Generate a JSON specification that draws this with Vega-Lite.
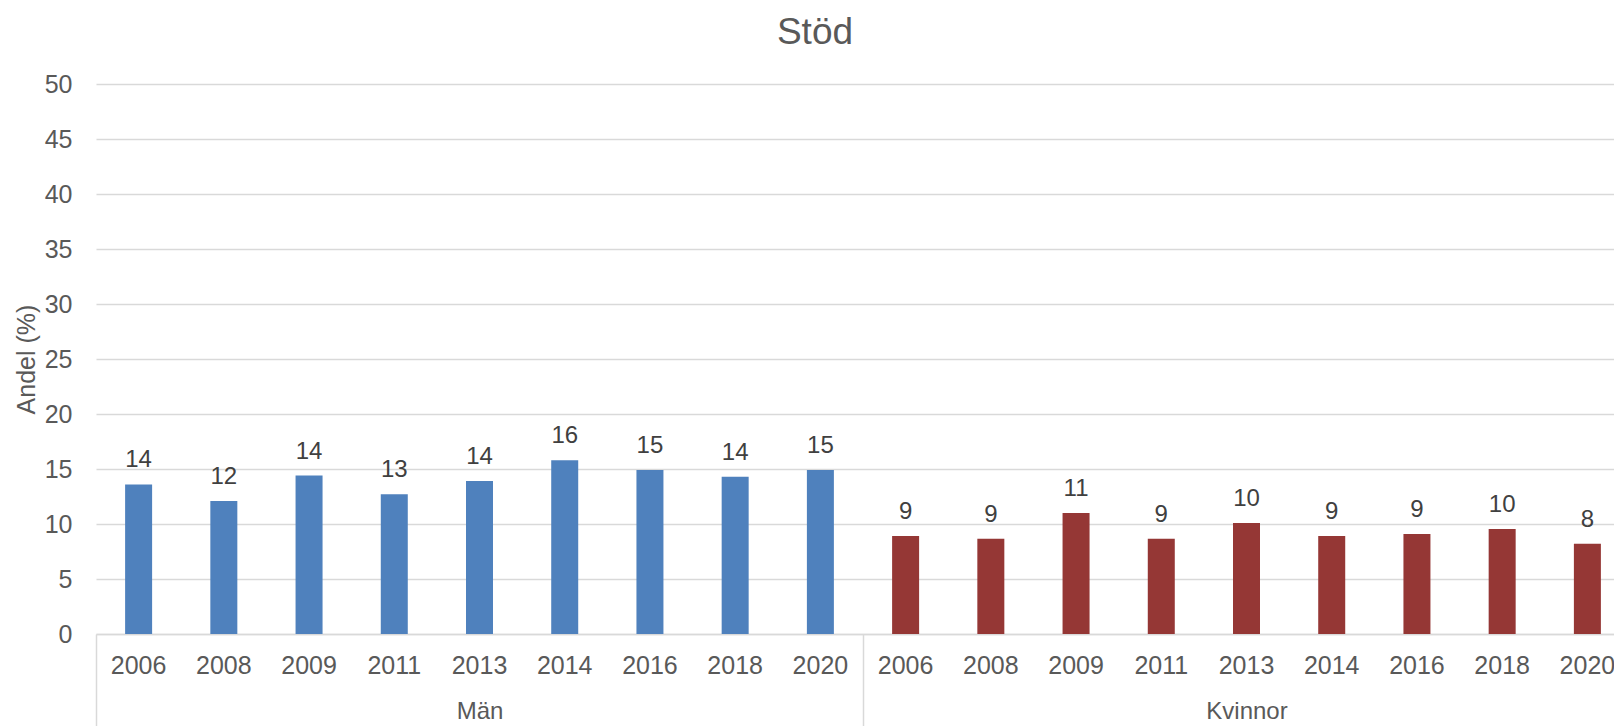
{
  "$schema": "https://vega.github.io/schema/vega-lite/v6.json",
  "width": 1518,
  "height": 550,
  "autosize": {"type": "none"},
  "padding": {"left": 96, "top": 84, "right": 0, "bottom": 92},
  "background": "white",
  "config": {"font": "Liberation Sans", "view": {"stroke": null}},
  "title": {"text": "Stöd", "fontSize": 37, "fontWeight": "normal", "color": "#595959", "anchor": "middle", "frame": "group", "dx": -40, "baseline": "alphabetic", "offset": -9},
  "data": {"values": [
    {"group": "Män", "year": "2006", "key": "Män 2006", "value": 13.6},
    {"group": "Män", "year": "2008", "key": "Män 2008", "value": 12.1},
    {"group": "Män", "year": "2009", "key": "Män 2009", "value": 14.4},
    {"group": "Män", "year": "2011", "key": "Män 2011", "value": 12.7},
    {"group": "Män", "year": "2013", "key": "Män 2013", "value": 13.9},
    {"group": "Män", "year": "2014", "key": "Män 2014", "value": 15.8},
    {"group": "Män", "year": "2016", "key": "Män 2016", "value": 14.9},
    {"group": "Män", "year": "2018", "key": "Män 2018", "value": 14.3},
    {"group": "Män", "year": "2020", "key": "Män 2020", "value": 14.9},
    {"group": "Kvinnor", "year": "2006", "key": "Kvinnor 2006", "value": 8.9},
    {"group": "Kvinnor", "year": "2008", "key": "Kvinnor 2008", "value": 8.65},
    {"group": "Kvinnor", "year": "2009", "key": "Kvinnor 2009", "value": 11.0},
    {"group": "Kvinnor", "year": "2011", "key": "Kvinnor 2011", "value": 8.65},
    {"group": "Kvinnor", "year": "2013", "key": "Kvinnor 2013", "value": 10.1},
    {"group": "Kvinnor", "year": "2014", "key": "Kvinnor 2014", "value": 8.9},
    {"group": "Kvinnor", "year": "2016", "key": "Kvinnor 2016", "value": 9.1},
    {"group": "Kvinnor", "year": "2018", "key": "Kvinnor 2018", "value": 9.55},
    {"group": "Kvinnor", "year": "2020", "key": "Kvinnor 2020", "value": 8.2}
  ]},
  "layer": [
    {
      "layer": [
        {
          "mark": {"type": "bar", "size": 27},
          "encoding": {
            "x": {"field": "key", "type": "nominal", "sort": null,
              "scale": {"range": [0, 1534], "paddingInner": 0, "paddingOuter": 0},
              "axis": {"orient": "bottom", "title": null, "labelExpr": "slice(datum.label, -4)", "labelAngle": 0, "labelFontSize": 25, "labelColor": "#595959", "labelPadding": 19, "ticks": false, "domain": true, "domainColor": "#D9D9D9", "domainWidth": 1.5, "grid": false}},
            "y": {"field": "value", "type": "quantitative", "scale": {"domain": [0, 50]},
              "axis": {"values": [0, 5, 10, 15, 20, 25, 30, 35, 40, 45, 50], "title": "Andel (%)", "titleFontSize": 25, "titleColor": "#595959", "titleFontWeight": "normal", "titleX": -70, "titleY": 275, "titleAngle": 270, "titleBaseline": "middle", "titleAlign": "center", "labelFontSize": 25, "labelColor": "#595959", "labelPadding": 24, "ticks": false, "domain": false, "grid": true, "gridColor": "#D9D9D9", "gridWidth": 1.5}},
            "color": {"field": "group", "type": "nominal", "scale": {"domain": ["Män", "Kvinnor"], "range": ["#4F81BD", "#953735"]}, "legend": null}
          }
        },
        {
          "mark": {"type": "text", "dy": -17, "baseline": "alphabetic", "fontSize": 24, "color": "#404040"},
          "encoding": {
            "x": {"field": "key", "type": "nominal", "sort": null},
            "y": {"field": "value", "type": "quantitative"},
            "text": {"field": "value", "type": "quantitative", "format": ".0f"}
          }
        }
      ]
    },
    {
      "mark": {"type": "bar", "opacity": 0},
      "encoding": {
        "x": {"field": "group", "type": "nominal", "sort": ["Män", "Kvinnor"],
          "scale": {"range": [0, 1534], "paddingInner": 0, "paddingOuter": 0},
          "axis": {"orient": "bottom", "title": null, "labelAngle": 0, "labelFontSize": 24, "labelColor": "#595959", "ticks": true, "tickBand": "extent", "tickSize": 92, "tickColor": "#D9D9D9", "tickWidth": 1.5, "labelPadding": -27, "domain": false, "grid": false}},
        "y": {"field": "value", "type": "quantitative", "stack": null}
      }
    }
  ],
  "resolve": {"scale": {"x": "independent"}, "axis": {"x": "independent"}}
}
